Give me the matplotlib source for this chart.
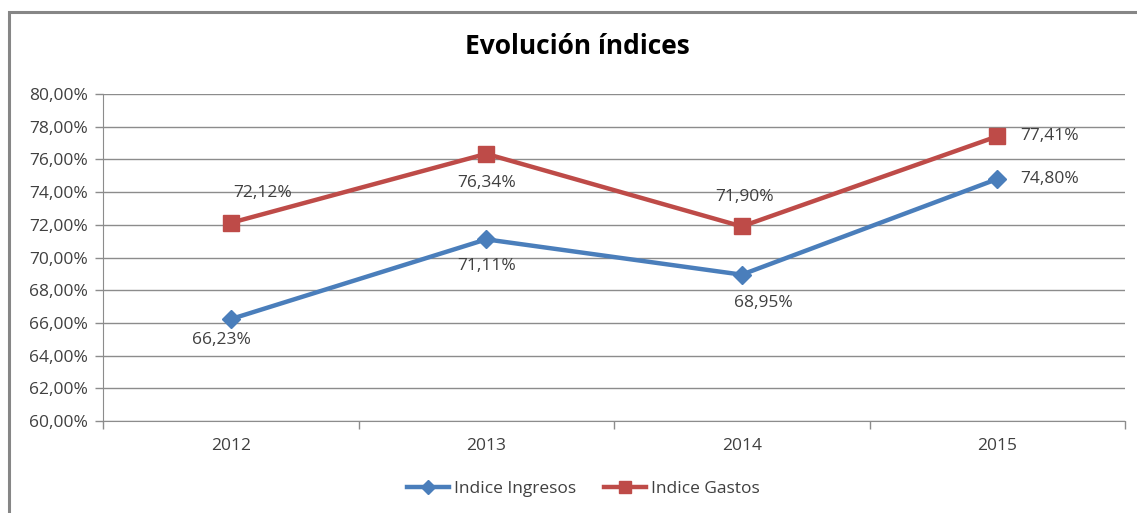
import matplotlib
matplotlib.use("Agg")
import matplotlib.pyplot as plt
from matplotlib.ticker import FuncFormatter, MultipleLocator
from matplotlib.patches import Rectangle

#%% Data
years = ['2012', '2013', '2014', '2015']
ingresos = [66.23, 71.11, 68.95, 74.80]
gastos = [72.12, 76.34, 71.90, 77.41]

# label offsets in pixels (dx, dy, ha)
ing_offsets = [(-9, -21, 'center'), (0, -27, 'center'), (22, -28, 'center'), (23, 0, 'left')]
gas_offsets = [(32, 30, 'center'), (0, -29, 'center'), (3, 29, 'center'), (23, 0, 'left')]

col_ing = '#4A7EBB'
col_gas = '#BE4B48'
grid_col = '#8C8C8C'
txt_col = '#404040'
fsize = 12.5

plt.rcParams['font.family'] = ['Open Sans', 'DejaVu Sans']

def pct(v, pos):
    return ('%.2f%%' % v).replace('.', ',')

fig = plt.figure(figsize=(11.37, 5.13), dpi=100)
ax = fig.add_axes([103/1137, 1-421/513, 1022/1137, 327/513])

x = range(len(years))
ax.plot(x, ingresos, color=col_ing, lw=3.2, marker='D', ms=9, label='Indice Ingresos')
ax.plot(x, gastos, color=col_gas, lw=3.2, marker='s', ms=11, label='Indice Gastos')

for i in x:
    dx, dy, ha = ing_offsets[i]
    ax.annotate(pct(ingresos[i], None), (i, ingresos[i]), xytext=(dx, dy),
                textcoords='offset pixels', ha=ha, va='center', fontsize=fsize, color=txt_col)
    dx, dy, ha = gas_offsets[i]
    ax.annotate(pct(gastos[i], None), (i, gastos[i]), xytext=(dx, dy),
                textcoords='offset pixels', ha=ha, va='center', fontsize=fsize, color=txt_col)

ax.set_xlim(-0.5, 3.5)
ax.set_ylim(60, 80)
ax.yaxis.set_major_locator(MultipleLocator(2))
ax.yaxis.set_major_formatter(FuncFormatter(pct))
ax.grid(axis='y', color=grid_col, lw=1)
ax.set_axisbelow(True)

ax.set_xticks(list(x))
ax.set_xticklabels(years)
ax.set_xticks([-0.5, 0.5, 1.5, 2.5, 3.5], minor=True)
ax.tick_params(axis='x', which='major', length=0, pad=12, labelsize=fsize, labelcolor=txt_col)
ax.tick_params(axis='x', which='minor', length=6, color=grid_col, width=1)
ax.tick_params(axis='y', length=6, color=grid_col, width=1, pad=5, labelsize=fsize, labelcolor=txt_col)

for s in ['top', 'right']:
    ax.spines[s].set_visible(False)
for s in ['left', 'bottom']:
    ax.spines[s].set_color(grid_col)

fig.text(0.508, 1-47/513, 'Evolución índices', ha='center', va='center',
         fontsize=19, fontweight='bold', color='black')

fig.legend(loc='center', bbox_to_anchor=(0.513, 1-489/513), ncol=2, frameon=False,
           fontsize=fsize, labelcolor=txt_col, handlelength=2.4, columnspacing=1.6,
           handletextpad=0.3, markerscale=0.75)

# chart outer frame
fig.patches.append(Rectangle((8.5/1137, -0.1), 1.2, 1.1 - 12.5/513, transform=fig.transFigure,
                             fill=False, edgecolor='#868686', lw=2.2))

fig.savefig('out.png', dpi=100)
